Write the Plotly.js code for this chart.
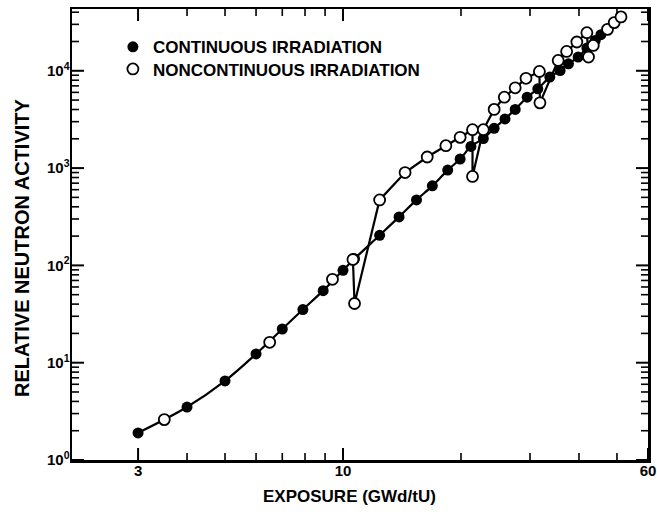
<!DOCTYPE html>
<html>
<head>
<meta charset="utf-8">
<script src="https://cdn.plot.ly/plotly-3.0.1.min.js"></script>
<style>
  html, body { margin: 0; padding: 0; background: #fff; }
  #chart { width: 657px; height: 515px; }
</style>
</head>
<body>
<div id="chart"></div>
<script>
// Continuous irradiation (filled circles)
const filledX = [3.0, 4.0, 5.0, 6.0, 7.0, 7.9, 8.9, 10.0, 10.7, 12.4, 13.9, 15.4, 16.9, 18.5, 19.9, 21.2, 22.8, 24.3, 25.9, 27.5, 29.5, 31.4, 33.7, 35.8, 37.6, 39.8, 41.9, 44.0, 45.5];
const filledY = [1.9, 3.5, 6.5, 12.3, 22.2, 35.2, 55, 89, 117, 204, 315, 471, 657, 953, 1240, 1670, 2010, 2560, 3200, 4010, 5350, 6520, 8610, 10070, 11800, 13840, 17140, 20530, 23500];

// Noncontinuous irradiation (open circles)
const openX = [3.5, 6.5, 9.4, 10.6, 10.7, 12.4, 14.4, 16.4, 18.3, 19.9, 21.4, 21.4, 22.8, 24.3, 25.8, 27.5, 29.3, 31.7, 31.8, 35.4, 37.2, 39.5, 41.9, 42.3, 43.5, 47.3, 49.2, 51.2];
const openY = [2.6, 16.2, 72, 115, 40.6, 471, 900, 1300, 1700, 2070, 2480, 821, 2480, 4010, 5350, 6680, 8370, 9840, 4680, 12770, 15810, 19770, 24640, 13840, 18240, 26660, 31260, 35800];
// the open-circle line branches off the common curve at this index
const openLineStart = 3;

// Axis ticks
const xTickVals = [3, 10, 60];
const xTickText = ['3', '10', '60'];
const xMinorVals = [4, 5, 6, 7, 8, 9, 20, 30, 40, 50];
const yTickVals = [1, 10, 100, 1000, 10000];
const yTickText = ['10<sup>0</sup>', '10<sup>1</sup>', '10<sup>2</sup>', '10<sup>3</sup>', '10<sup>4</sup>'];
const yMinorVals = [2, 3, 4, 5, 6, 7, 8, 9,
                    20, 30, 40, 50, 60, 70, 80, 90,
                    200, 300, 400, 500, 600, 700, 800, 900,
                    2000, 3000, 4000, 5000, 6000, 7000, 8000, 9000,
                    20000, 30000, 40000];

const seriesNames = ['CONTINUOUS IRRADIATION', 'NONCONTINUOUS IRRADIATION'];
const xTitle = 'EXPOSURE (GWd/tU)';
const yTitle = 'RELATIVE NEUTRON ACTIVITY';

const FONT = 'Liberation Sans, Arial, Helvetica, sans-serif';
const X_RANGE = [Math.log10(2.035), Math.log10(60)];
const Y_RANGE = [0, 4.635];
const MARGIN = {l: 72, r: 9, t: 9, b: 55};
const W = 657, H = 515;
// pixels per decade, used only to give the inward tick marks a pixel length
const PX_X = (W - MARGIN.l - MARGIN.r) / (X_RANGE[1] - X_RANGE[0]);
const PX_Y = (H - MARGIN.t - MARGIN.b) / (Y_RANGE[1] - Y_RANGE[0]);

// Inward tick marks on all four frame edges, built from the tick arrays.
function xTickTrace(vals, len, width) {
  const xs = [], ys = [];
  vals.forEach(function (v) {
    xs.push(v, v, null, v, v, null);
    ys.push(Math.pow(10, Y_RANGE[0]), Math.pow(10, Y_RANGE[0] + len / PX_Y), null,
            Math.pow(10, Y_RANGE[1]), Math.pow(10, Y_RANGE[1] - len / PX_Y), null);
  });
  return {x: xs, y: ys, mode: 'lines', type: 'scatter', connectgaps: false,
          line: {color: '#000', width: width}, showlegend: false, hoverinfo: 'skip'};
}
function yTickTrace(vals, len, width) {
  const xs = [], ys = [];
  vals.forEach(function (v) {
    xs.push(Math.pow(10, X_RANGE[0]), Math.pow(10, X_RANGE[0] + len / PX_X), null,
            Math.pow(10, X_RANGE[1]), Math.pow(10, X_RANGE[1] - len / PX_X), null);
    ys.push(v, v, null, v, v, null);
  });
  return {x: xs, y: ys, mode: 'lines', type: 'scatter', connectgaps: false,
          line: {color: '#000', width: width}, showlegend: false, hoverinfo: 'skip'};
}

const traces = [
  xTickTrace(xTickVals, 12, 2),
  xTickTrace(xMinorVals, 7, 1.6),
  yTickTrace(yTickVals, 12, 2),
  yTickTrace(yMinorVals, 7, 1.6),
  {
    x: filledX, y: filledY, mode: 'lines', type: 'scatter',
    line: {color: '#000', width: 2.2, shape: 'spline', smoothing: 1},
    showlegend: false, hoverinfo: 'skip'
  },
  {
    x: openX.slice(openLineStart), y: openY.slice(openLineStart), mode: 'lines', type: 'scatter',
    line: {color: '#000', width: 2.2},
    showlegend: false, hoverinfo: 'skip'
  },
  {
    x: filledX, y: filledY, mode: 'markers', type: 'scatter', name: seriesNames[0],
    legend: 'legend',
    marker: {symbol: 'circle', size: 11, color: '#000', line: {color: '#000', width: 0}}
  },
  {
    x: openX, y: openY, mode: 'markers', type: 'scatter', name: seriesNames[1],
    legend: 'legend2',
    marker: {symbol: 'circle', size: 11, color: '#fff', line: {color: '#000', width: 1.8}}
  }
];

const legendFont = {family: FONT, size: 17, color: '#000', weight: 'bold'};

const layout = {
  width: W, height: H,
  margin: MARGIN,
  paper_bgcolor: '#fff', plot_bgcolor: '#fff',
  font: {family: FONT, color: '#000', size: 15},
  showlegend: true,
  legend: {
    x: 0.071, y: 0.955, xanchor: 'left', yanchor: 'top',
    bgcolor: 'rgba(0,0,0,0)', borderwidth: 0, font: legendFont
  },
  legend2: {
    x: 0.071, y: 0.906, xanchor: 'left', yanchor: 'top',
    bgcolor: 'rgba(0,0,0,0)', borderwidth: 0, font: legendFont
  },
  xaxis: {
    type: 'log', range: X_RANGE,
    tickmode: 'array', tickvals: xTickVals, ticktext: xTickText,
    ticks: '', showline: true, linewidth: 2.5, linecolor: '#000', mirror: true,
    showgrid: false, zeroline: false,
    tickfont: {family: FONT, size: 15, color: '#000', weight: 'bold'},
    ticklabelstandoff: -5
  },
  yaxis: {
    type: 'log', range: Y_RANGE,
    tickmode: 'array', tickvals: yTickVals, ticktext: yTickText,
    ticks: '', showline: true, linewidth: 2.5, linecolor: '#000', mirror: true,
    showgrid: false, zeroline: false,
    tickfont: {family: FONT, size: 15, color: '#000', weight: 'bold'},
    ticklabelstandoff: -3
  },
  annotations: [
    {
      text: xTitle, xref: 'paper', yref: 'paper', x: 0.4826, y: -0.082,
      xanchor: 'center', yanchor: 'middle', showarrow: false,
      font: {family: FONT, size: 17, color: '#000', weight: 'bold'}
    },
    {
      text: yTitle, xref: 'paper', yref: 'paper', x: -0.087, y: 0.47,
      xanchor: 'center', yanchor: 'middle', showarrow: false, textangle: -90,
      font: {family: FONT, size: 20, color: '#000', weight: 'bold'}
    }
  ]
};

Plotly.newPlot('chart', traces, layout, {displayModeBar: false, staticPlot: true});
</script>
</body>
</html>
